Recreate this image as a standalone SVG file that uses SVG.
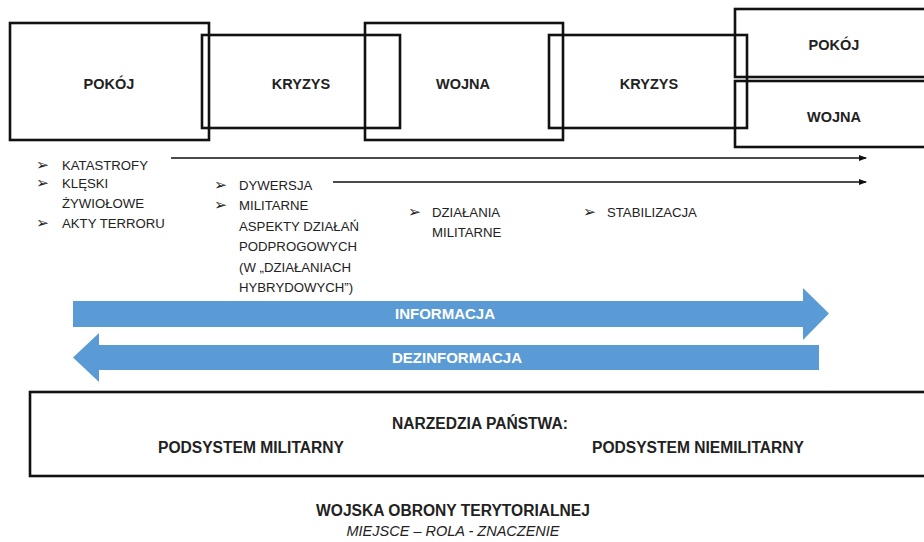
<svg xmlns="http://www.w3.org/2000/svg" width="924" height="542" viewBox="0 0 924 542">
<style>
.box{fill:none;stroke:#111;stroke-width:2.6}
.lbl{font-family:"Liberation Sans",Arial,sans-serif;font-weight:bold;font-size:14.5px;fill:#222;text-anchor:middle}
.bt{font-family:"Liberation Sans",Arial,sans-serif;font-size:13.2px;fill:#222}
.bu{font-family:"DejaVu Sans",sans-serif;font-size:15.5px;fill:#222}
.conn{stroke:#111;stroke-width:1.6;fill:none}
.band{fill:#5B9BD5}
.bandt{font-family:"Liberation Sans",Arial,sans-serif;font-weight:bold;font-size:15px;fill:#fff;text-anchor:middle}
.big{font-family:"Liberation Sans",Arial,sans-serif;font-weight:bold;font-size:15.6px;fill:#222;text-anchor:middle}
</style>
<defs>
<marker id="ah" markerWidth="8" markerHeight="6" refX="7" refY="3" orient="auto" markerUnits="userSpaceOnUse">
<path d="M0,0 L8,3 L0,6 Z" fill="#111"/>
</marker>
</defs>
<rect width="924" height="542" fill="#fff"/>

<g id="n-pokoj1"><rect class="box" x="10" y="23" width="199" height="117"/><text class="lbl" x="109" y="89">POKÓJ</text></g>
<g id="n-kryzys1"><rect class="box" x="202" y="35" width="198" height="93"/><text class="lbl" x="301" y="89">KRYZYS</text></g>
<g id="n-wojna1"><rect class="box" x="365" y="23" width="198" height="117"/><text class="lbl" x="463" y="89">WOJNA</text></g>
<g id="n-kryzys2"><rect class="box" x="549" y="35" width="198" height="93"/><text class="lbl" x="649" y="89">KRYZYS</text></g>
<g id="n-pokoj2"><rect class="box" x="735" y="9" width="200" height="68"/><text class="lbl" x="834" y="50">POKÓJ</text></g>
<g id="n-wojna2"><rect class="box" x="735" y="81" width="200" height="66"/><text class="lbl" x="834" y="122">WOJNA</text></g>

<g id="connectors">
<line class="conn" x1="171" y1="158" x2="866" y2="158" marker-end="url(#ah)"/>
<line class="conn" x1="333" y1="182" x2="866" y2="182" marker-end="url(#ah)"/>
</g>

<g id="list1">
<text class="bu" x="36" y="170">➢</text><text class="bt" x="62" y="170">KATASTROFY</text>
<text class="bu" x="36" y="188">➢</text><text class="bt" x="62" y="188">KLĘSKI</text>
<text class="bt" x="62" y="208">ŻYWIOŁOWE</text>
<text class="bu" x="36" y="228">➢</text><text class="bt" x="62" y="228">AKTY TERRORU</text>
</g>
<g id="list2">
<text class="bu" x="214" y="190">➢</text><text class="bt" x="239" y="190">DYWERSJA</text>
<text class="bu" x="214" y="210">➢</text><text class="bt" x="239" y="210">MILITARNE</text>
<text class="bt" x="239" y="230.5">ASPEKTY DZIAŁAŃ</text>
<text class="bt" x="239" y="251">PODPROGOWYCH</text>
<text class="bt" x="239" y="271.5">(W „DZIAŁANIACH</text>
<text class="bt" x="239" y="292">HYBRYDOWYCH”)</text>
</g>
<g id="list3">
<text class="bu" x="408" y="217">➢</text><text class="bt" x="432" y="217">DZIAŁANIA</text>
<text class="bt" x="432" y="237">MILITARNE</text>
</g>
<g id="list4">
<text class="bu" x="583" y="217">➢</text><text class="bt" x="607" y="217">STABILIZACJA</text>
</g>

<g id="n-informacja">
<path class="band" d="M73,301 L803,301 L803,288 L829,313.5 L803,340 L803,327 L73,327 Z"/>
<text class="bandt" x="445" y="319">INFORMACJA</text>
</g>
<g id="n-dezinformacja">
<path class="band" d="M819,345 L99,345 L99,333 L73,357.5 L99,382 L99,370 L819,370 Z"/>
<text class="bandt" x="457" y="363">DEZINFORMACJA</text>
</g>

<g id="n-narzedzia">
<rect class="box" x="30" y="392" width="910" height="84"/>
<text class="big" x="480" y="429">NARZEDZIA PAŃSTWA:</text>
<text class="big" x="251" y="453">PODSYSTEM MILITARNY</text>
<text class="big" x="698" y="453">PODSYSTEM NIEMILITARNY</text>
</g>

<g id="caption">
<text class="big" x="453" y="516" font-size="15.2">WOJSKA OBRONY TERYTORIALNEJ</text>
<text x="453" y="536" font-family="Liberation Sans,Arial,sans-serif" font-style="italic" font-size="14.5px" fill="#222" text-anchor="middle">MIEJSCE – ROLA - ZNACZENIE</text>
</g>
</svg>
